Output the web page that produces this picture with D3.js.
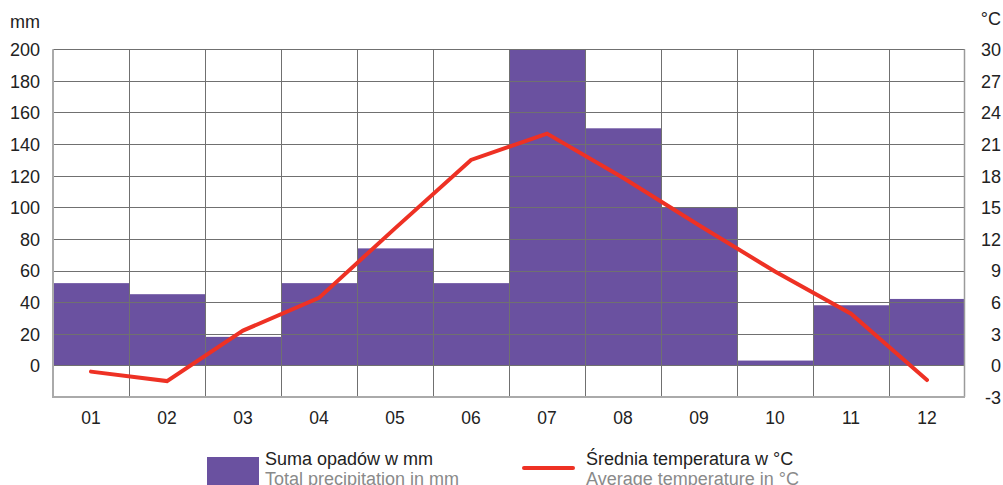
<!DOCTYPE html>
<html><head><meta charset="utf-8">
<script src="https://cdn.jsdelivr.net/npm/d3@7"></script>
<style>
html,body{margin:0;padding:0;background:#fff;}
svg{display:block;font-family:"Liberation Sans",Arial,sans-serif;}
</style></head>
<body>
<svg id="c" width="1003" height="485"></svg>
<script>
const months = ["01","02","03","04","05","06","07","08","09","10","11","12"];
const precipitation = [52,45,18,52,74,52,200,150,100,3,38,42];
const temperature = [-0.6,-1.5,3.3,6.4,13.0,19.5,22.0,17.8,13.3,8.9,4.9,-1.4];
const leftTicks = [0,20,40,60,80,100,120,140,160,180,200];
const rightTicks = [-3,0,3,6,9,12,15,18,21,24,27,30];
const gridTicks = [-20,0,20,40,60,80,100,120,140,160,180,200];

const svg = d3.select("#c");
const L = 53, R = 965, T = 49.3, B = 396.9;
const x = d3.scaleBand().domain(months).range([L, R]).padding(0);
const yP = d3.scaleLinear().domain([-20, 200]).range([B, T]);
const yT = d3.scaleLinear().domain([-3, 30]).range([B, T]);

// bars
svg.append("g").selectAll("rect").data(precipitation).join("rect")
  .attr("x", (d,i)=>x(months[i]))
  .attr("width", x.bandwidth())
  .attr("y", d=>yP(d))
  .attr("height", d=>yP(0)-yP(d))
  .attr("fill", "#6a51a0");

// grid
const g = svg.append("g");
g.selectAll("line.h").data(gridTicks.slice(1)).join("line")
  .attr("x1", L).attr("x2", R)
  .attr("y1", d=>Math.round(yP(d))+0.5).attr("y2", d=>Math.round(yP(d))+0.5)
  .attr("stroke", "#707070").attr("stroke-width", 1);
g.selectAll("line.v").data(months.slice(1)).join("line")
  .attr("x1", d=>Math.round(x(d))+0.5).attr("x2", d=>Math.round(x(d))+0.5)
  .attr("y1", T).attr("y2", B)
  .attr("stroke", "#707070").attr("stroke-width", 1);
g.append("line").attr("x1", R-0.5).attr("x2", R-0.5).attr("y1", T).attr("y2", B)
  .attr("stroke", "#9a9a9a").attr("stroke-width", 1.5);
g.append("line").attr("x1", L).attr("x2", L).attr("y1", T).attr("y2", B+1)
  .attr("stroke", "#aaaaaa").attr("stroke-width", 2);
g.append("line").attr("x1", L).attr("x2", R).attr("y1", B).attr("y2", B)
  .attr("stroke", "#aaaaaa").attr("stroke-width", 2);

// temperature line
const line = d3.line().x((d,i)=>x(months[i])+x.bandwidth()/2).y(d=>yT(d));
svg.append("path").datum(temperature).attr("d", line)
  .attr("fill", "none").attr("stroke", "#ee3124").attr("stroke-width", 4)
  .attr("stroke-linejoin", "miter").attr("stroke-linecap", "round");

// axes labels
const fmt = d => String(d);
const yAxisL = d3.axisLeft(yP).tickValues(leftTicks).tickFormat(fmt).tickSize(0).tickPadding(0);
const gl = svg.append("g").attr("transform", `translate(40,0)`).call(yAxisL);
gl.select(".domain").remove();
gl.selectAll("text").attr("font-size", 18).attr("fill", "#222").attr("font-family", "Liberation Sans, Arial, sans-serif").attr("dy", "0.36em");

const yAxisR = d3.axisLeft(yT).tickValues(rightTicks).tickFormat(fmt).tickSize(0).tickPadding(0);
const gr = svg.append("g").attr("transform", `translate(1001,0)`).call(yAxisR);
gr.select(".domain").remove();
gr.selectAll("text").attr("font-size", 18).attr("fill", "#222").attr("font-family", "Liberation Sans, Arial, sans-serif").attr("dy", "0.36em");

const xAxis = d3.axisBottom(x).tickSize(0).tickPadding(0);
const gx = svg.append("g").attr("transform", `translate(0,${B})`).call(xAxis);
gx.select(".domain").remove();
gx.selectAll("text").attr("font-size", 17.5).attr("fill", "#222").attr("font-family", "Liberation Sans, Arial, sans-serif").attr("dy", null).attr("y", 27);

// unit titles
svg.append("text").attr("x", 40).attr("y", 28).attr("text-anchor", "end")
  .attr("font-size", 18).attr("fill", "#222").text("mm");
svg.append("text").attr("x", 1001).attr("y", 25).attr("text-anchor", "end")
  .attr("font-size", 18).attr("fill", "#222").text("°C");

// legend
const lg = svg.append("g");
lg.append("rect").attr("x", 207).attr("y", 457).attr("width", 52).attr("height", 30).attr("fill", "#6a51a0");
lg.append("text").attr("x", 265).attr("y", 465).attr("font-size", 18).attr("fill", "#222").text("Suma opadów w mm");
lg.append("text").attr("x", 265).attr("y", 485).attr("font-size", 18).attr("fill", "#8a8a8a").text("Total precipitation in mm");
lg.append("line").attr("x1", 524).attr("x2", 573).attr("y1", 468).attr("y2", 468)
  .attr("stroke", "#ee3124").attr("stroke-width", 4).attr("stroke-linecap", "round");
lg.append("text").attr("x", 586).attr("y", 465).attr("font-size", 18).attr("fill", "#222").text("Średnia temperatura w °C");
lg.append("text").attr("x", 586).attr("y", 485).attr("font-size", 18).attr("fill", "#8a8a8a").text("Average temperature in °C");
</script>
</body></html>
